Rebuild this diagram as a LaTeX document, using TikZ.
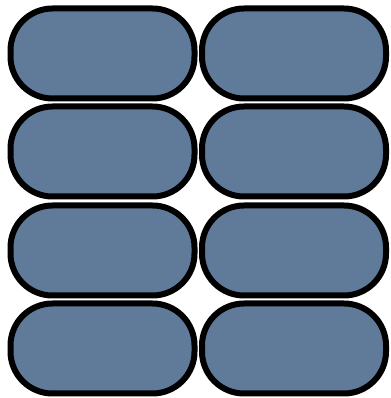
\documentclass[tikz,border=0pt]{standalone}
\definecolor{slate}{RGB}{96,123,153}
\begin{document}
\begin{tikzpicture}[x=1pt,y=1pt,
  pill/.style={draw=black,line width=6pt,fill=slate,rounded corners=42pt,
    minimum width=184pt,minimum height=90pt,inner sep=0pt,outer sep=0pt}]
\useasboundingbox (0,0) rectangle (390,398);
\node[pill] (b1) at (102.5,344.5) {};
\node[pill] (b2) at (294,344.5) {};
\node[pill] (b3) at (102.5,246.5) {};
\node[pill] (b4) at (294,246.5) {};
\node[pill] (b5) at (102.5,147.5) {};
\node[pill] (b6) at (294,147.5) {};
\node[pill] (b7) at (102.5,49.5) {};
\node[pill] (b8) at (294,49.5) {};
\end{tikzpicture}
\end{document}
